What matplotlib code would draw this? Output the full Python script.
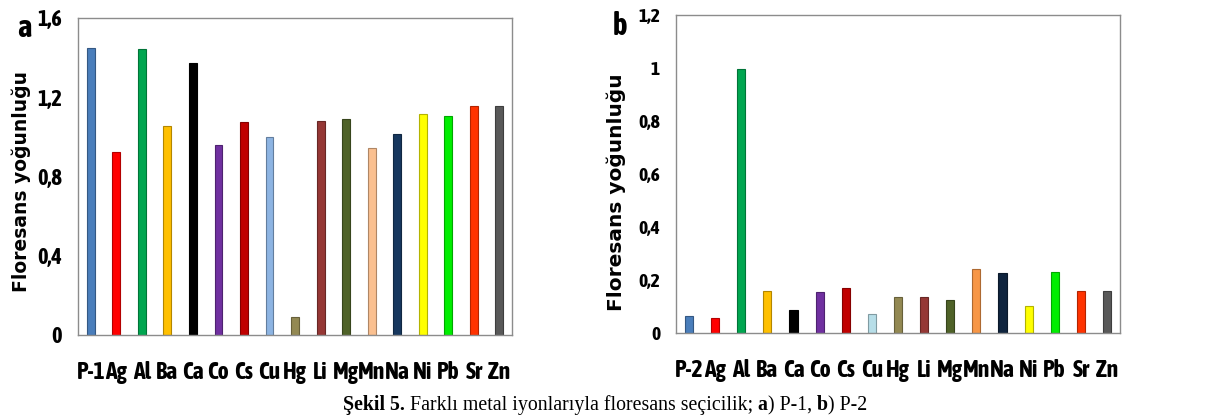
import matplotlib
matplotlib.use("Agg")
from matplotlib import pyplot as plt
from matplotlib.offsetbox import TextArea, HPacker, AnchoredOffsetbox

# panel a: P-1
labels_a = ['P-1', 'Ag', 'Al', 'Ba', 'Ca', 'Co', 'Cs', 'Cu', 'Hg', 'Li', 'Mg', 'Mn', 'Na', 'Ni', 'Pb', 'Sr', 'Zn']
values_a = [1.449, 0.924, 1.443, 1.056, 1.374, 0.960, 1.075, 1.000, 0.090, 1.080, 1.090, 0.944, 1.015,
            1.117, 1.107, 1.157, 1.157]
colors_a = ['#4a7ebb', '#ff0000', '#00a650', '#ffc000', '#000000', '#7030a0', '#c00000', '#8db4e2',
            '#938953', '#953735', '#4f6228', '#fac090', '#17375e', '#ffff00', '#00ee00', '#ff3300', '#595959']

# panel b: P-2
labels_b = ['P-2', 'Ag', 'Al', 'Ba', 'Ca', 'Co', 'Cs', 'Cu', 'Hg', 'Li', 'Mg', 'Mn', 'Na', 'Ni', 'Pb', 'Sr', 'Zn']
values_b = [0.064, 0.057, 0.996, 0.158, 0.087, 0.155, 0.170, 0.072, 0.137, 0.137, 0.125, 0.241, 0.226,
            0.101, 0.230, 0.158, 0.158]
colors_b = ['#4a7ebb', '#ff0000', '#00a650', '#ffc000', '#000000', '#7030a0', '#c00000', '#b7dee8',
            '#938953', '#953735', '#4f6228', '#f79646', '#0f243e', '#ffff00', '#00ee00', '#ff3300', '#595959']

yticks_a = [0, 0.4, 0.8, 1.2, 1.6]
yticks_b = [0, 0.2, 0.4, 0.6, 0.8, 1.0, 1.2]

NARROW = ['Asap Condensed', 'DejaVu Sans']


def darker(c, f=0.7):
    r, g, b = matplotlib.colors.to_rgb(c)
    return (r * f, g * f, b * f)


def draw_panel(ax, labels, values, colors, yticks, ylim, ytick_size, label_size):
    x = range(len(labels))
    ax.bar(x, values, width=0.31, color=colors,
           edgecolor=[darker(c) for c in colors], linewidth=0.8)
    ax.set_xlim(-0.5, len(labels) - 0.5)
    ax.set_ylim(0, ylim)
    ax.set_xticks(list(x))
    ax.set_xticklabels(labels, fontsize=17, fontweight='bold', family=NARROW)
    ax.set_yticks(yticks)
    ax.set_yticklabels([f"{v:g}".replace('.', ',') for v in yticks],
                       fontsize=ytick_size, fontweight='bold', family=NARROW)
    ax.tick_params(axis='x', length=0, pad=19)
    ax.tick_params(axis='y', length=0, pad=11.5)
    for s in ax.spines.values():
        s.set_color('#8c8c8c')
        s.set_linewidth(1.0)
    ax.set_ylabel('Floresans yoğunluğu', fontsize=label_size, fontweight='bold',
                  family='DejaVu Sans', va='center')


fig = plt.figure(figsize=(12.1, 4.2), dpi=100)
fig.patch.set_facecolor('white')

ax_a = fig.add_axes([0.0645, 0.2024, 0.3587, 0.7548])
draw_panel(ax_a, labels_a, values_a, colors_a, yticks_a, 1.6, 16, 13.5)
ax_a.yaxis.set_label_coords(-0.131, 0.483)

ax_b = fig.add_axes([0.5587, 0.2071, 0.3669, 0.757])
draw_panel(ax_b, labels_b, values_b, colors_b, yticks_b, 1.2, 14, 14.5)
ax_b.yaxis.set_label_coords(-0.135, 0.443)

fig.text(24 / 1210, 1 - 37 / 420, 'a', fontsize=22, fontweight='bold', family=NARROW,
         ha='center', va='baseline')
fig.text(620 / 1210, 1 - 35 / 420, 'b', fontsize=22, fontweight='bold', family=NARROW,
         ha='center', va='baseline')

# caption with mixed bold / regular pieces
serif = 'Liberation Serif'
parts = [('Şekil 5.', 'bold'), (' Farklı metal iyonlarıyla floresans seçicilik; ', 'normal'),
         ('a', 'bold'), (') P-1, ', 'normal'), ('b', 'bold'), (') P-2', 'normal')]
boxes = [TextArea(t, textprops=dict(family=serif, fontsize=14.3, fontweight=w)) for t, w in parts]
pack = HPacker(children=boxes, align='baseline', pad=0, sep=0)
anchored = AnchoredOffsetbox(loc='center', child=pack, frameon=False,
                             bbox_to_anchor=(0.5, 1 - 405 / 420), bbox_transform=fig.transFigure,
                             borderpad=0, pad=0)
fig.add_artist(anchored)

fig.savefig('out.png', dpi=100)
